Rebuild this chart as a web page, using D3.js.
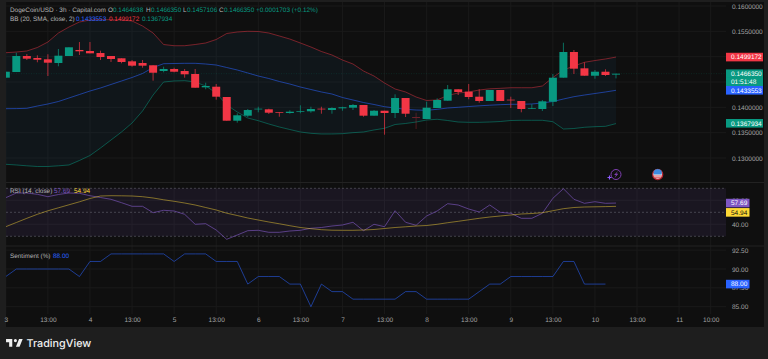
<!DOCTYPE html>
<html lang="en">

<head>
  <meta charset="UTF-8">
  <title>DogeCoin/USD</title>
  <script src="https://d3js.org/d3.v7.min.js"></script>
  <style>
    html, body {
      margin: 0;
      background: #1e1e1e;
      overflow: hidden;
    }

    text {
      font-family: "Liberation Sans", sans-serif;
      font-size: 6.5px;
      text-rendering: geometricPrecision;
    }

    .axis text {
      fill: #a3a3a3;
    }

    .legend {
      font-size: 6.4px;
    }
  </style>
</head>

<body>
  <svg id="chart" width="768" height="359"></svg>

  <script>
    const opens = [.14585,.14697,.15013,.14974,.14948,.14875,.15013,.15132,.15112,.15072,.15013,.14968,.14908,.14875,.14830,.14717,.14757,.14717,.14658,.14395,.14407,.14204,.13736,.13835,.13961,.13961,.13902,.13888,.13908,.13922,.13973,.13947,.13981,.13993,.14046,.13835,.13933,.13888,.14184,.13809,.13770,.13987,.14131,.14356,.14309,.14210,.14125,.14342,.14151,.14125,.13973,.13967,.14111,.14585,.15092,.14770,.14624,.14703,.14646];
    const highs = [.14703,.15078,.15053,.15027,.15047,.15151,.15185,.15289,.15289,.15118,.15013,.14968,.14934,.14934,.14830,.14802,.14782,.14757,.14757,.14486,.14460,.14204,.13882,.13967,.14012,.13973,.13902,.13941,.14040,.14012,.14012,.14001,.14012,.14066,.14046,.13947,.13933,.14257,.14184,.13894,.14111,.14178,.14441,.14356,.14460,.14356,.14342,.14342,.14210,.14125,.14060,.14145,.14658,.15275,.15132,.14889,.14737,.14751,.14664];
    const lows = [.14585,.14697,.14934,.14889,.14618,.14810,.15013,.15033,.15066,.14934,.14895,.14869,.14802,.14782,.14526,.14691,.14691,.14585,.14387,.14356,.14151,.13736,.13697,.13809,.13902,.13868,.13815,.13874,.13882,.13894,.13874,.13874,.13933,.13947,.13815,.13835,.13460,.13789,.13809,.13572,.13770,.13987,.14131,.14243,.14159,.14091,.14125,.14125,.13987,.13902,.13967,.13928,.14026,.14585,.14658,.14624,.14565,.14618,.14571];
    const closes = [.14703,.15013,.14960,.14940,.14881,.15019,.15185,.15106,.15066,.14993,.14954,.14895,.14822,.14822,.14683,.14757,.14703,.14652,.14387,.14421,.14210,.13736,.13843,.13947,.13973,.13894,.13888,.13914,.13922,.13967,.13963,.13987,.14001,.14046,.13835,.13933,.13888,.14184,.13874,.13789,.13993,.14145,.14356,.14303,.14204,.14125,.14342,.14125,.14139,.13967,.13987,.14119,.14585,.15092,.14763,.14624,.14703,.14638,.14664];
    const fadedBars = [39];

    const bbUpper = [.15078,.15092,.15112,.15181,.15289,.15467,.15585,.15684,.15724,.15730,.15730,.15724,.15704,.15605,.15467,.15240,.15216,.15216,.15240,.15270,.15339,.15457,.15487,.15501,.15497,.15467,.15408,.15348,.15270,.15191,.15102,.15033,.14934,.14855,.14717,.14618,.14480,.14362,.14303,.14204,.14135,.14145,.14234,.14283,.14303,.14342,.14366,.14375,.14387,.14387,.14387,.14421,.14589,.14737,.14816,.14889,.14924,.14954,.14992];
    const bbBasis = [.13973,.13975,.13981,.14026,.14066,.14115,.14184,.14253,.14322,.14382,.14451,.14520,.14589,.14668,.14786,.14861,.14865,.14869,.14869,.14855,.14835,.14786,.14737,.14678,.14618,.14569,.14510,.14460,.14401,.14352,.14303,.14263,.14194,.14145,.14095,.14056,.14012,.13987,.13961,.13947,.13941,.13961,.13987,.14001,.14016,.14030,.14042,.14052,.14060,.14060,.14066,.14086,.14115,.14164,.14210,.14243,.14273,.14303,.14336];
    const bbLower = [.12876,.12862,.12846,.12832,.12832,.12846,.12862,.12951,.13049,.13197,.13355,.13513,.13691,.13928,.14243,.14500,.14520,.14526,.14500,.14421,.14283,.14046,.13908,.13789,.13736,.13671,.13612,.13562,.13513,.13487,.13474,.13474,.13480,.13500,.13513,.13553,.13586,.13661,.13681,.13710,.13750,.13764,.13740,.13710,.13704,.13704,.13710,.13720,.13740,.13744,.13744,.13744,.13716,.13572,.13582,.13606,.13618,.13625,.13679];

    const rsiValues = [62.17,66.08,66.08,65.0,63.0,64.83,66.08,65.83,63.83,62.33,60.83,58.0,55.0,55.0,49.67,51.67,51.08,48.33,40.0,40.5,35.25,27.5,31.08,34.67,35.0,33.33,33.33,34.42,35.0,36.67,37.33,38.58,39.42,41.67,34.67,40.0,38.0,51.33,41.67,39.17,46.92,51.08,57.17,56.08,52.75,50.25,56.08,50.0,49.17,45.0,45.0,49.17,61.67,69.67,60.83,57.5,58.83,57.5,57.69];
    const rsiMa = [38.0,41.5,45.0,48.33,51.25,53.75,56.25,58.75,61.5,63.58,63.83,63.75,63.58,63.0,61.92,60.42,59.17,57.75,56.08,54.0,51.92,49.25,47.33,45.25,43.58,41.92,40.42,38.83,37.33,36.33,35.5,35.08,35.0,35.0,35.25,35.67,36.5,37.33,37.92,38.58,39.0,40.0,41.33,42.5,43.75,45.0,46.08,46.92,47.75,48.58,49.0,49.67,51.33,53.0,54.0,54.42,54.58,54.75,54.94];

    const sentiment = [89,90,90,90,90,90,90,89,91,91,92,92,92,92,92,92,91,92,92,92,91,91,91,88,89,89,89,88,88,85,88,87,87,86,86,86,86,86,87,87,86,86,86,86,86,87,88,88,89,89,89,89,89,91,91,88,88,88];

    const priceTicks = [0.13, 0.135, 0.14, 0.145, 0.15, 0.155, 0.16];
    const rsiTicks = [40, 60];
    const sentimentTicks = [85, 87.5, 90, 92.5];
    const timeTicks = [0, 4, 8, 12, 16, 20, 24, 28, 32, 36, 40, 44, 48, 52, 56, 60, 64, 67];
    const timeLabels = ["3", "13:00", "4", "13:00", "5", "13:00", "6", "13:00", "7", "13:00", "8", "13:00", "9", "13:00", "10", "13:00", "11", "10:00"];

    const green = "#089981", red = "#f23645", blue = "#2962ff", purple = "#7e57c2", yellow = "#fdd835";
    const plotLeft = 6, plotRight = 726, axisRight = 764;

    const svg = d3.select("#chart");

    const x = d3.scaleLinear().domain([0, 58]).range([5.8, 616]);
    const yPrice = d3.scaleLinear().domain([0.13, 0.16]).range([158, 6]);
    const yRsi = d3.scaleLinear().domain([30, 70]).range([236.3, 188.3]);
    const ySent = d3.scaleLinear().domain([85, 90]).range([306.7, 269]);

    svg.append("rect").attr("x", plotLeft).attr("y", 2).attr("width", axisRight - plotLeft).attr("height", 325).attr("fill", "#0f0f0f");

    svg.append("defs").append("clipPath").attr("id", "plot")
      .append("rect").attr("x", plotLeft).attr("y", 2).attr("width", plotRight - plotLeft).attr("height", 312);

    const plot = svg.append("g").attr("clip-path", "url(#plot)");

    // grid
    const allHoriz = [
      ...priceTicks.map(d => yPrice(d)),
      ...rsiTicks.map(d => yRsi(d)),
      ...sentimentTicks.map(d => ySent(d))
    ];
    plot.selectAll(".gridh").data(allHoriz).enter().append("line")
      .attr("x1", plotLeft).attr("x2", plotRight)
      .attr("y1", d => d).attr("y2", d => d)
      .attr("stroke", "#1a1a1a").attr("stroke-width", 1);
    plot.selectAll(".gridv").data(timeTicks).enter().append("line")
      .attr("x1", d => x(d)).attr("x2", d => x(d))
      .attr("y1", 2).attr("y2", 314)
      .attr("stroke", "#1a1a1a").attr("stroke-width", 1);

    // pane separators
    [182.5, 246].forEach(y => {
      svg.append("line").attr("x1", plotLeft).attr("x2", axisRight)
        .attr("y1", y).attr("y2", y).attr("stroke", "#222222").attr("stroke-width", 1);
    });

    // bollinger
    plot.append("path").datum(d3.range(bbUpper.length))
      .attr("fill", "rgba(33,150,243,0.05)")
      .attr("d", d3.area().x(i => x(i)).y0(i => yPrice(bbLower[i])).y1(i => yPrice(bbUpper[i])));

    plot.append("line")
      .attr("x1", plotLeft).attr("x2", plotRight)
      .attr("y1", yPrice(closes[58])).attr("y2", yPrice(closes[58]))
      .attr("stroke", green).attr("stroke-opacity", 0.25).attr("stroke-width", 0.7).attr("stroke-dasharray", "1 1.5");

    function drawLine(values, scale, color, opacity) {
      plot.append("path").datum(values)
        .attr("fill", "none")
        .attr("stroke", color)
        .attr("stroke-opacity", opacity)
        .attr("stroke-width", 0.85)
        .attr("d", d3.line().x((d, i) => x(i)).y(d => scale(d)));
    }

    drawLine(bbUpper, yPrice, red, 0.55);
    drawLine(bbLower, yPrice, green, 0.6);
    drawLine(bbBasis, yPrice, blue, 0.65);

    // candles
    const candles = plot.selectAll(".candle").data(d3.range(opens.length)).enter().append("g")
      .attr("opacity", i => fadedBars.includes(i) ? 0.4 : 1)
      .attr("fill", i => closes[i] >= opens[i] ? green : red)
      .attr("stroke", i => closes[i] >= opens[i] ? green : red);

    candles.append("line")
      .attr("x1", i => x(i)).attr("x2", i => x(i))
      .attr("y1", i => yPrice(highs[i])).attr("y2", i => yPrice(lows[i]))
      .attr("stroke-width", 0.7);

    candles.append("rect")
      .attr("x", i => x(i) - 4).attr("width", 8)
      .attr("y", i => yPrice(Math.max(opens[i], closes[i])))
      .attr("height", i => Math.max(0.7, Math.abs(yPrice(opens[i]) - yPrice(closes[i]))))
      .attr("stroke", "none");

    // rsi
    plot.append("rect")
      .attr("x", plotLeft).attr("width", plotRight - plotLeft)
      .attr("y", yRsi(70)).attr("height", yRsi(30) - yRsi(70))
      .attr("fill", purple).attr("fill-opacity", 0.1);

    [70, 50, 30].forEach(v => {
      plot.append("line").attr("x1", plotLeft).attr("x2", plotRight)
        .attr("y1", yRsi(v)).attr("y2", yRsi(v))
        .attr("stroke", "#787b86").attr("stroke-opacity", 0.65).attr("stroke-width", 0.7).attr("stroke-dasharray", "2 2");
    });

    drawLine(rsiValues, yRsi, purple, 0.75);
    drawLine(rsiMa, yRsi, yellow, 0.55);

    // sentiment
    drawLine(sentiment, ySent, blue, 0.65);

    // axes
    function rightAxis(scale, ticks, digits) {
      const g = svg.append("g").attr("class", "axis")
        .attr("transform", `translate(${plotRight + 6},0)`)
        .call(d3.axisRight(scale).tickValues(ticks).tickSize(0).tickPadding(0).tickFormat(d3.format(digits)));
      g.select(".domain").remove();
      return g;
    }

    rightAxis(yPrice, priceTicks, ".7f");
    rightAxis(yRsi, rsiTicks, ".2f");
    rightAxis(ySent, sentimentTicks, ".2f");

    const timeAxis = svg.append("g").attr("class", "axis")
      .attr("transform", "translate(0,314)")
      .call(d3.axisBottom(x).tickValues(timeTicks).tickSize(0).tickPadding(3).tickFormat((d, i) => timeLabels[i]));
    timeAxis.select(".domain").remove();

    // price tags
    function tag(y, label, fill, color, width, dy) {
      const g = svg.append("g");
      g.append("rect").attr("x", plotRight).attr("y", y - 4.3 + dy).attr("width", width).attr("height", 8.6).attr("fill", fill);
      g.append("text").attr("x", plotRight + 5).attr("y", y + dy).attr("dy", "0.35em").attr("fill", color).text(label);
    }

    tag(yPrice(bbUpper[58]), "0.1499172", red, "#fff", 37, 0);
    tag(yPrice(bbLower[58]), "0.1367934", green, "#fff", 37, -0.3);
    tag(yPrice(closes[58]), "0.1466350", green, "#fff", 37, 0);
    tag(yPrice(closes[58]) + 8.3, "01:51:48", green, "#fff", 37, 0);
    tag(yPrice(bbBasis[58]), "0.1433553", blue, "#fff", 37, 0);
    tag(yRsi(rsiValues[58]), "57.69", purple, "#fff", 23.5, 0);
    tag(yRsi(rsiMa[58]), "54.94", yellow, "#111", 23.5, 6);
    tag(ySent(sentiment[57]), "88.00", blue, "#fff", 23.5, 0);

    // legends
    function legend(items, y) {
      items.forEach(d => {
        svg.append("text").attr("class", "legend").attr("x", d[0]).attr("y", y).attr("dy", "0.35em")
          .attr("fill", d[2]).text(d[1]);
      });
    }

    legend([
      [10, "DogeCoin/USD · 3h · Capital.com", "#b4b4b4"],
      [108, "O", "#b4b4b4"], [113, "0.1464638", green],
      [146, "H", "#b4b4b4"], [151, "0.1466350", green],
      [183, "L", "#b4b4b4"], [187, "0.1457106", green],
      [219, "C", "#b4b4b4"], [224, "0.1466350", green],
      [256, "+0.0001703 (+0.12%)", green]
    ], 9.3);
    legend([
      [10, "BB (20, SMA, close, 2)", "#b4b4b4"],
      [76, "0.1433553", blue],
      [109, "0.1499172", red],
      [142, "0.1367934", green]
    ], 18.7);
    legend([
      [10, "RSI (14, close)", "#b4b4b4"],
      [54, "57.69", purple],
      [74, "54.94", yellow]
    ], 190.7);
    legend([
      [10, "Sentiment (%)", "#b4b4b4"],
      [53, "88.00", blue]
    ], 255.7);

    // event icons
    const bolt = svg.append("g").attr("transform", "translate(616,174.5)");
    bolt.append("circle").attr("r", 5).attr("fill", "#0f0f0f").attr("stroke", "#7e3fb0").attr("stroke-width", 1);
    bolt.append("path").attr("d", "M2-3.6L-2 0.6H0L-1.4 3.6L2.4 -0.8H0.3Z").attr("fill", "#7e3fb0");
    bolt.append("path").attr("d", "M-6.5 1V5M-8.5 3H-4.5").attr("stroke", "#8f5cff").attr("stroke-width", 1.1);

    const flag = svg.append("g").attr("transform", "translate(657.7,174.5)");
    flag.append("circle").attr("r", 5).attr("fill", "#eeeeee").attr("stroke", "#b3232f").attr("stroke-width", 1.3);
    flag.append("path").attr("d", "M-4 -3.6A5 5 0 0 1 4 -3.6V0H-4Z").attr("fill", "#3d8be0");
    flag.append("path").attr("d", "M-4.2 1.5H4.2M-3 3.2H3").attr("stroke", "#d9434f").attr("stroke-width", 0.9);

    // logo
    svg.append("path")
      .attr("d", "M14 6H2v6h6v9h6V6zm14 15h-7l6-15h7l-6 15zm-8-9a3 3 0 1 0 0-6 3 3 0 0 0 0 6z")
      .attr("transform", "translate(5,335.9) scale(0.52)")
      .attr("fill", "#efefef");
    svg.append("text").attr("x", 26.5).attr("y", 347)
      .attr("fill", "#efefef")
      .style("font-family", "Inter, sans-serif")
      .style("font-size", "10.8px")
      .style("font-weight", 500)
      .text("TradingView");
  </script>
</body>

</html>
